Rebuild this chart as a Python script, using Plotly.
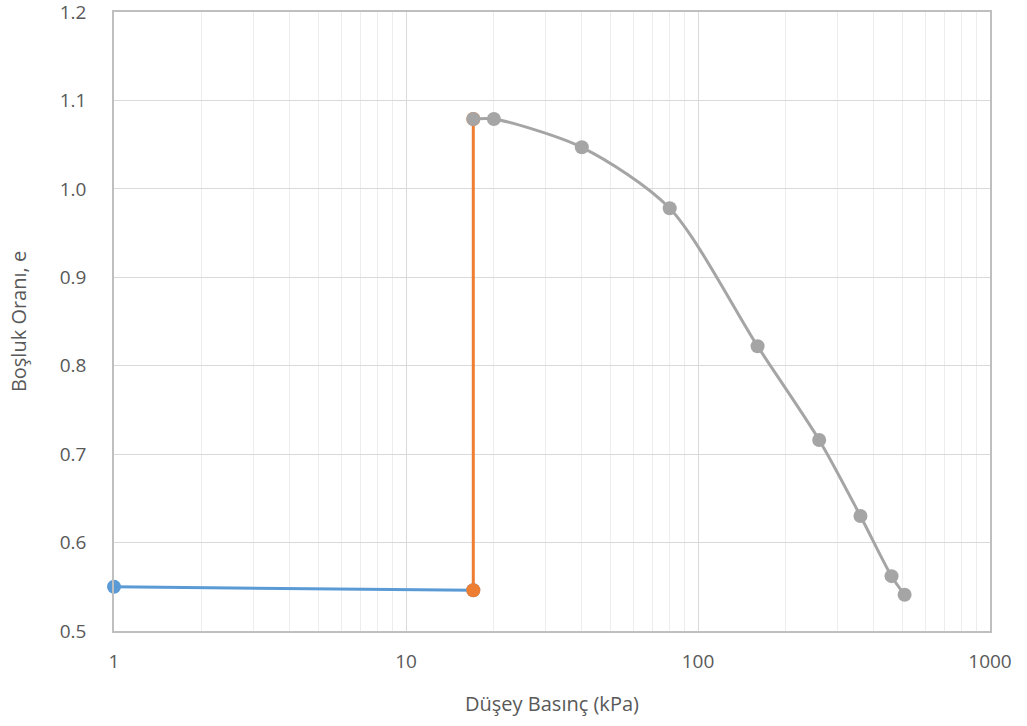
import plotly.graph_objects as go

# Void ratio vs vertical pressure (log scale)
blue_p = [1, 17]
blue_e = [0.550, 0.546]

orange_p = [17, 17]
orange_e = [0.546, 1.079]

gray_p = [17, 20, 40, 80, 160, 260, 360, 460, 510]
gray_e = [1.079, 1.079, 1.047, 0.978, 0.822, 0.716, 0.630, 0.562, 0.541]

x_ticks = [1, 10, 100, 1000]
y_ticks = [0.5, 0.6, 0.7, 0.8, 0.9, 1.0, 1.1, 1.2]

FONT = "'Open Sans', Lato, sans-serif"
TXT = "#595959"

fig = go.Figure()
fig.add_trace(go.Scatter(x=blue_p, y=blue_e, mode="lines+markers", cliponaxis=False,
                         line=dict(color="#5B9BD5", width=3),
                         marker=dict(size=14, color="#5B9BD5")))
fig.add_trace(go.Scatter(x=orange_p, y=orange_e, mode="lines+markers", cliponaxis=False,
                         line=dict(color="#ED7D31", width=3),
                         marker=dict(size=14, color="#ED7D31")))
fig.add_trace(go.Scatter(x=gray_p, y=gray_e, mode="lines+markers", cliponaxis=False,
                         line=dict(color="#A5A5A5", width=3, shape="spline", smoothing=0.8),
                         marker=dict(size=14, color="#A5A5A5")))

fig.update_layout(
    width=1027, height=726,
    margin=dict(l=114, r=37, t=12, b=95),
    paper_bgcolor="white", plot_bgcolor="white",
    showlegend=False,
    font=dict(family=FONT, size=19, color=TXT),
)
fig.update_xaxes(
    type="log", range=[0, 3], automargin=False, ticklabeloverflow="allow",
    tickvals=x_ticks, ticktext=[str(v) for v in x_ticks],
    showgrid=True, gridcolor="#D9D9D9", gridwidth=1.3,
    minor=dict(showgrid=True, gridcolor="#EDEDED", gridwidth=1.3,
               tickvals=[m * 10 ** d for d in range(3) for m in range(2, 10)]),
    showline=True, linecolor="#BFBFBF", linewidth=1.5, mirror=True,
    ticks="", ticklabelstandoff=12,
    title=dict(text="Düşey Basınç (kPa)", font=dict(size=20, color=TXT), standoff=24),
    zeroline=False,
)
fig.update_yaxes(
    range=[0.5, 1.2], automargin=False, ticklabeloverflow="allow",
    tickvals=y_ticks, ticktext=[f"{v:.1f}" for v in y_ticks],
    showgrid=True, gridcolor="#D9D9D9", gridwidth=1.3,
    showline=True, linecolor="#BFBFBF", linewidth=1.5, mirror=True,
    ticks="", ticklabelstandoff=22,
    title=dict(text="Boşluk Oranı, e", font=dict(size=20, color=TXT), standoff=28),
    zeroline=False,
)

fig.write_html("out.html")
